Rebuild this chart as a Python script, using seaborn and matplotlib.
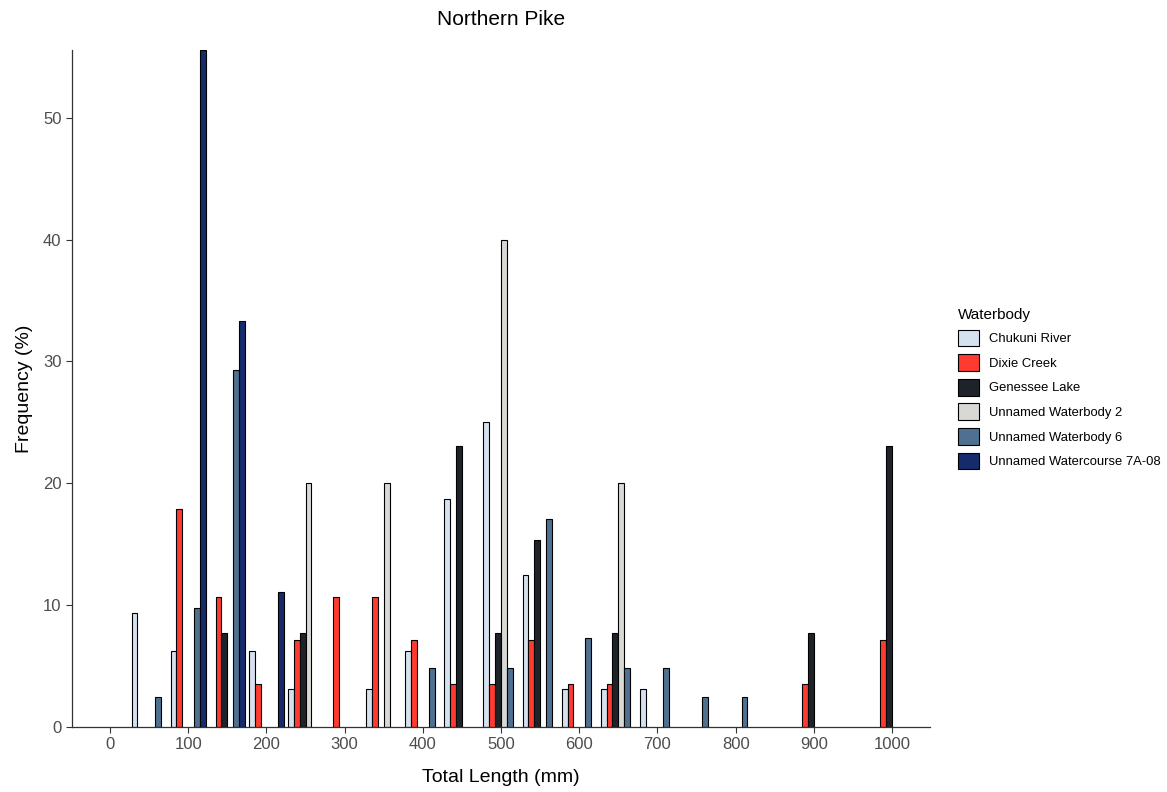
import numpy as np
import pandas as pd
import matplotlib
matplotlib.use('Agg')
import matplotlib.pyplot as plt
import seaborn as sns

# Frequency (%) by 50 mm length bin
waterbodies = ['Chukuni River', 'Dixie Creek', 'Genessee Lake',
               'Unnamed Waterbody 2', 'Unnamed Waterbody 6', 'Unnamed Watercourse 7A-08']
colors = ['#D5E1EE', '#FF3A30', '#1E232A', '#D8D8D5', '#4E7192', '#152B6C']

chukuni_bins = [50, 100, 200, 250, 350, 400, 450, 500, 550, 600, 650, 700]
chukuni_pct = [9.38, 6.25, 6.25, 3.13, 3.13, 6.25, 18.75, 25.0, 12.5, 3.13, 3.13, 3.13]

dixie_bins = [100, 150, 200, 250, 300, 350, 400, 450, 500, 550, 600, 650, 900, 1000]
dixie_pct = [17.86, 10.71, 3.57, 7.14, 10.71, 10.71, 7.14, 3.57, 3.57, 7.14, 3.57, 3.57, 3.57, 7.14]

genessee_bins = [150, 250, 450, 500, 550, 650, 900, 1000]
genessee_pct = [7.69, 7.69, 23.08, 7.69, 15.38, 7.69, 7.69, 23.08]

wb2_bins = [250, 350, 500, 650]
wb2_pct = [20.0, 20.0, 40.0, 20.0]

wb6_bins = [50, 100, 150, 400, 500, 550, 600, 650, 700, 750, 800]
wb6_pct = [2.44, 9.76, 29.27, 4.88, 4.88, 17.07, 7.32, 4.88, 4.88, 2.44, 2.44]

wc7a_bins = [100, 150, 200]
wc7a_pct = [55.56, 33.33, 11.11]

bins = [chukuni_bins, dixie_bins, genessee_bins, wb2_bins, wb6_bins, wc7a_bins]
pcts = [chukuni_pct, dixie_pct, genessee_pct, wb2_pct, wb6_pct, wc7a_pct]

frames = []
for name, b, p in zip(waterbodies, bins, pcts):
    frames.append(pd.DataFrame({'Length': b, 'Frequency': p, 'Waterbody': name}))
df = pd.concat(frames, ignore_index=True)

sns.set_style('ticks')
plt.rcParams['font.family'] = ['Liberation Sans', 'DejaVu Sans']
plt.rcParams['text.color'] = 'black'
plt.rcParams['axes.labelcolor'] = 'black'

fig = plt.figure(figsize=(11.67, 7.92), dpi=100)
ax = fig.add_axes([0.0617, 0.082, 0.7353, 0.855])

sns.barplot(data=df, x='Length', y='Frequency', hue='Waterbody',
            hue_order=waterbodies, palette=colors, saturation=1,
            native_scale=True, width=0.9, dodge=True,
            edgecolor='black', linewidth=0.8, errorbar=None, ax=ax)

ax.set_xlim(-48.6, 1048.6)
ax.set_ylim(0, 55.56)
ax.set_xticks(range(0, 1001, 100))
ax.set_yticks([0, 10, 20, 30, 40, 50])
ax.tick_params(axis='both', labelsize=12, labelcolor='#4d4d4d', color='#333333',
               length=4, width=0.8)
for s in ['left', 'bottom']:
    ax.spines[s].set_color('#333333')
    ax.spines[s].set_linewidth(0.9)
ax.spines['top'].set_visible(False)
ax.spines['right'].set_visible(False)

ax.set_xlabel('Total Length (mm)', fontsize=14, labelpad=12)
ax.set_ylabel('Frequency (%)', fontsize=14, labelpad=7)
ax.set_title('Northern Pike', fontsize=15, pad=18)

handles, labels = ax.get_legend_handles_labels()
ax.legend_.remove()
leg = fig.legend(handles, labels, title='Waterbody', loc='upper left',
                 bbox_to_anchor=(0.8165, 0.618), frameon=False, fontsize=9.4,
                 title_fontsize=11, handlelength=1.6, handleheight=1.6,
                 labelspacing=0.6, handletextpad=0.8, borderaxespad=0)
leg._legend_box.align = 'left'

fig.savefig('out.png', dpi=100)
